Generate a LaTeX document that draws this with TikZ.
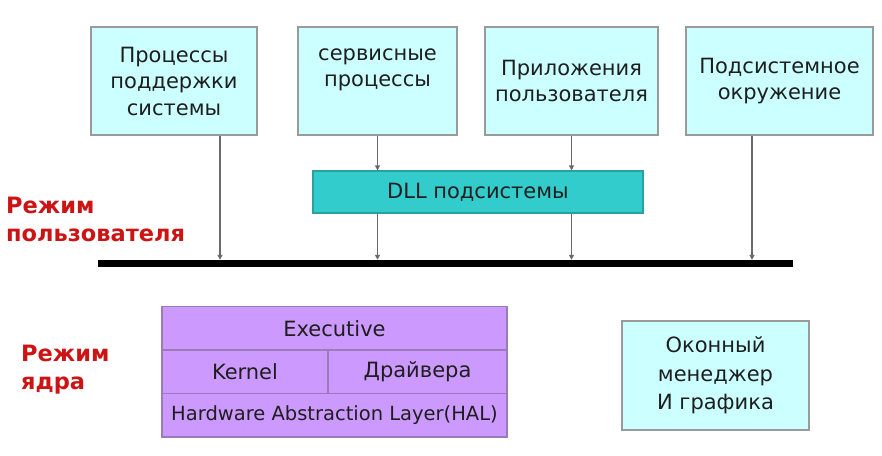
\documentclass[tikz,border=0pt]{standalone}
\usepackage{fontspec}
\setmainfont{DejaVu Sans}
\usetikzlibrary{arrows.meta}
\definecolor{boxcyan}{HTML}{CCFFFF}
\definecolor{boxedge}{HTML}{9A9A9A}
\definecolor{dllteal}{HTML}{33CCCC}
\definecolor{dlledge}{HTML}{2AA0A0}
\definecolor{kpurple}{HTML}{CC99FF}
\definecolor{kedge}{HTML}{9A7AB8}
\definecolor{modered}{HTML}{CC1414}
\definecolor{conn}{HTML}{6A6A6A}
\definecolor{txt}{HTML}{1E1E1E}
\begin{document}
\begin{tikzpicture}[x=1pt,y=-1pt,
  ubox/.style={draw=boxedge, line width=1.5pt, fill=boxcyan, align=center, inner sep=0pt,
    font=\fontsize{21}{26.5}\selectfont, text=txt, minimum height=108pt},
  dllbox/.style={draw=dlledge, line width=1.2pt, fill=dllteal, inner sep=0pt,
    font=\fontsize{21}{26}\selectfont, text=txt, minimum width=330pt, minimum height=42pt},
  kcell/.style={draw=kedge, line width=1.2pt, fill=kpurple, inner sep=0pt,
    font=\fontsize{21}{26}\selectfont, text=txt, minimum height=43.5pt},
  modelabel/.style={font=\fontsize{22.5}{28}\selectfont\bfseries, text=modered, align=left, inner sep=0pt, anchor=west},
  connector/.style={draw=conn, line width=1.4pt, -{Triangle[length=5pt,width=5pt]}},
  busbar/.style={fill=black, inner sep=0pt, minimum width=695pt, minimum height=7pt}
]
\useasboundingbox (0,0) rectangle (882,455);
\fill[white] (0,0) rectangle (882,455);

% user-mode boxes
\node[ubox, minimum width=166pt] (b1) at (174,81) {Процессы\\поддержки\\системы};
\node[ubox, minimum width=159pt] (b2) at (377.5,81) {сервисные\\процессы\\\mbox{}};
\node[ubox, minimum width=173pt] (b3) at (571.5,81) {Приложения\\пользователя};
\node[ubox, minimum width=187pt] (b4) at (779.5,81) {Подсистемное\\окружение};

\node[dllbox] (dll) at (478,192) {DLL подсистемы};

\node[busbar] (bar) at (445.5,263.5) {};

% connector x positions
\coordinate (x1) at (220,0);
\coordinate (x4) at (752,0);

\draw[connector] (b1.south -| x1) -- (bar.north -| x1);
\draw[connector] (b2.south) -- (b2.south |- dll.north);
\draw[connector] (b2.south |- dll.south) -- (b2.south |- bar.north);
\draw[connector] (b3.south) -- (b3.south |- dll.north);
\draw[connector] (b3.south |- dll.south) -- (b3.south |- bar.north);
\draw[connector] (b4.south -| x4) -- (bar.north -| x4);

% mode labels
\node[modelabel] (umode) at (6,219) {Режим\\пользователя};
\node[modelabel] (kmode) at (21,370) {Режим\\ядра};

% kernel stack
\node[kcell, minimum width=345pt] (exec) at (334.5,328.25) {Executive};
\node[kcell, minimum width=166pt] (kern) at (245,371.75) {Kernel};
\node[kcell, minimum width=179pt] (drv) at (417.5,371.75) {Драйвера};
\node[kcell, minimum width=345pt, font=\fontsize{19.5}{24}\selectfont] (hal) at (334.5,415.25) {Hardware Abstraction Layer(HAL)};

% window manager
\node[ubox, minimum width=187pt, minimum height=109pt, font=\fontsize{21}{28.5}\selectfont] (wm) at (715.5,375.5) {Оконный\\менеджер\\И графика};
\end{tikzpicture}
\end{document}
